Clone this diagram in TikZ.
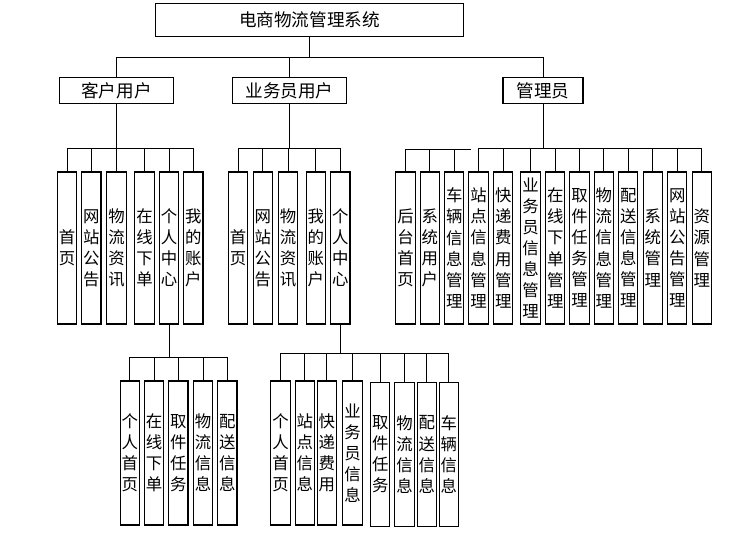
\documentclass[tikz,border=0pt]{standalone}
\usepackage{fontspec}
\newfontfamily\cjk{Noto Sans CJK SC}
\begin{document}
\begin{tikzpicture}[x=0.75pt,y=-0.75pt,
  hbox/.style={draw, line width=0.8pt, inner sep=0pt, font={\cjk\fontsize{13.2pt}{16pt}\selectfont}},
  vbox/.style={draw, line width=0.8pt, inner sep=0pt, minimum width=14.5pt, align=center, font={\cjk\fontsize{12.3pt}{15.8pt}\selectfont}},
  tallbox/.style={vbox, minimum height=114pt},
  lowbox/.style={vbox, minimum height=108pt},
  conn/.style={line width=0.75pt}]
\useasboundingbox (0,0) rectangle (752,541);
% level 0 and 1
\node[hbox, minimum width=231pt, minimum height=25pt] (root) at (309.5,20) {电商物流管理系统};
\node[hbox, minimum width=85pt, minimum height=19pt] (cu) at (116.5,90.5) {客户用户};
\node[hbox, minimum width=85pt, minimum height=19pt] (bu) at (289.5,90.5) {业务员用户};
\node[hbox, minimum width=60pt, minimum height=19pt] (ad) at (543,90.5) {管理员};
\coordinate (bus0) at (0,58);
\coordinate (bus1) at (0,148.3);
\coordinate (bus1b) at (0,150);
\coordinate (bus2c) at (0,357.7);
\coordinate (bus2b) at (0,353.3);
\foreach \c in {cu,bu,ad} \draw[conn] (root.south) -- (root.south |- bus0) -| (\c.north);
% customer children
\node[tallbox] (c1) at (67,248) {首\\页};
\node[tallbox] (c2) at (91.3,248) {网\\站\\公\\告};
\node[tallbox] (c3) at (116.5,248) {物\\流\\资\\讯};
\node[tallbox] (c4) at (144.5,248) {在\\线\\下\\单};
\node[tallbox] (c5) at (169,248) {个\\人\\中\\心};
\node[tallbox] (c6) at (193.3,248) {我\\的\\账\\户};
\foreach \c in {c1,c2,c3,c4,c5,c6} \draw[conn] (cu.south) -- (cu.south |- bus1) -| (\c.north);
% business children
\node[tallbox] (b1) at (238,248) {首\\页};
\node[tallbox] (b2) at (262.7,248) {网\\站\\公\\告};
\node[tallbox] (b3) at (288,248) {物\\流\\资\\讯};
\node[tallbox] (b4) at (315.7,248) {我\\的\\账\\户};
\node[tallbox] (b5) at (340.3,248) {个\\人\\中\\心};
\foreach \c in {b1,b2,b3,b4,b5} \draw[conn] (bu.south) -- (bu.south |- bus1) -| (\c.north);
% admin children
\node[tallbox] (a1) at (405.5,248) {后\\台\\首\\页};
\node[tallbox] (a2) at (429.8,248) {系\\统\\用\\户};
\node[tallbox] (a3) at (454.2,248) {车\\辆\\信\\息\\管\\理};
\node[tallbox] (a4) at (478.5,248) {站\\点\\信\\息\\管\\理};
\node[tallbox] (a5) at (503.2,248) {快\\递\\费\\用\\管\\理};
\node[tallbox] (a6) at (530.5,248) {业\\务\\员\\信\\息\\管\\理};
\node[tallbox] (a7) at (555.2,248) {在\\线\\下\\单\\管\\理};
\node[tallbox] (a8) at (579.5,248) {取\\件\\任\\务\\管\\理};
\node[tallbox] (a9) at (603.8,248) {物\\流\\信\\息\\管\\理};
\node[tallbox] (a10) at (628.2,248) {配\\送\\信\\息\\管\\理};
\node[tallbox] (a11) at (652.8,248) {系\\统\\管\\理};
\node[tallbox] (a12) at (677.2,248) {网\\站\\公\\告\\管\\理};
\node[tallbox] (a13) at (701.8,248) {资\\源\\管\\理};
\foreach \c in {a4,a5,a6,a7,a8,a9,a10,a11,a12,a13} \draw[conn] (ad.south) -- (ad.south |- bus1) -| (\c.north);
\coordinate (lend) at (471,150);
\draw[conn] (a1.north) |- (lend);
\foreach \c in {a2,a3} \draw[conn] (\c.north) -- (\c.north |- bus1b);
% customer personal centre children
\node[lowbox] (cp1) at (129.7,453) {个\\人\\首\\页};
\node[lowbox] (cp2) at (154,453) {在\\线\\下\\单};
\node[lowbox] (cp3) at (178.3,453) {取\\件\\任\\务};
\node[lowbox] (cp4) at (203,453) {物\\流\\信\\息};
\node[lowbox] (cp5) at (227.3,453) {配\\送\\信\\息};
\foreach \c in {cp1,cp2,cp3,cp4,cp5} \draw[conn] (c5.south) -- (c5.south |- bus2c) -| (\c.north);
% business personal centre children
\node[lowbox] (bp1) at (280.5,453) {个\\人\\首\\页};
\node[lowbox] (bp2) at (304.8,453) {站\\点\\信\\息};
\node[lowbox] (bp3) at (326.8,453) {快\\递\\费\\用};
\node[lowbox] (bp4) at (352.5,453) {业\\务\\员\\信\\息};
\node[lowbox] (bp5) at (380.2,454.5) {取\\件\\任\\务};
\node[lowbox] (bp6) at (404.5,454.5) {物\\流\\信\\息};
\node[lowbox] (bp7) at (426.8,454.5) {配\\送\\信\\息};
\node[lowbox] (bp8) at (448.8,454.5) {车\\辆\\信\\息};
\foreach \c in {bp1,bp2,bp3,bp4,bp5,bp6,bp7,bp8} \draw[conn] (b5.south) -- (b5.south |- bus2b) -| (\c.north);
\end{tikzpicture}
\end{document}
